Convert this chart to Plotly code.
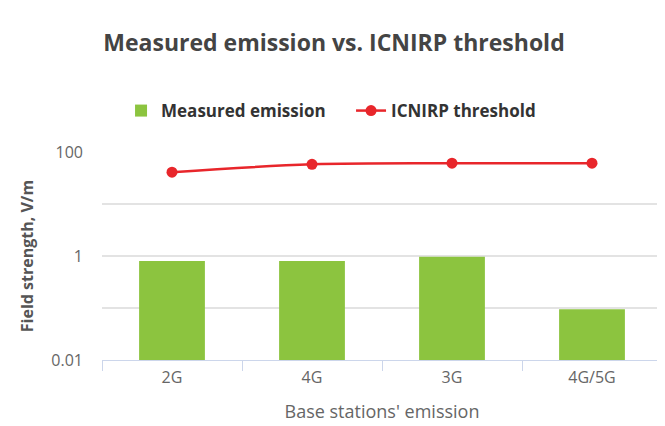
import plotly.graph_objects as go

categories = ["2G", "4G", "3G", "4G/5G"]
measured = [0.8, 0.8, 0.97, 0.095]
threshold = [41, 58, 61, 61]
y_tickvals = [0.01, 0.1, 1, 10, 100]
y_ticktext = ["0.01", "", "1", "", "100"]

FONT = "Open Sans"
W, H = 657, 418  # page body has an 8px margin

fig = go.Figure()
fig.add_trace(go.Bar(
    x=categories, y=measured, name="Measured emission",
    marker=dict(color="#8cc43f", line=dict(width=0)), width=0.47,
))
fig.add_trace(go.Scatter(
    x=categories, y=threshold, name="ICNIRP threshold",
    mode="lines+markers", line=dict(color="#e8262b", width=2.5, shape="spline"),
    marker=dict(color="#e8262b", size=11),
))

fig.update_layout(
    width=W, height=H,
    margin=dict(l=94, r=3, t=144, b=66, autoexpand=False),
    paper_bgcolor="white", plot_bgcolor="white",
    font=dict(family=FONT, color="#666666", size=16),
    title=dict(text="Measured emission vs. ICNIRP threshold",
               x=326 / W, xanchor="center", y=1 - 35 / H, yanchor="middle",
               font=dict(family=FONT, size=23, color="#444444", weight="bold")),
    legend=dict(orientation="h", x=0.034, xanchor="left",
                y=1.197, yanchor="middle",
                font=dict(family=FONT, size=17, color="#333333", weight="bold"),
                itemwidth=30, entrywidth=185, entrywidthmode="pixels"),
    showlegend=True,
)
fig.update_xaxes(
    automargin=False,
    showline=True, linecolor="#ccd6eb", linewidth=1,
    ticks="outside", tickson="boundaries", ticklen=10, tickcolor="#ccd6eb",
    showgrid=False,
    ticklabelstandoff=3,
    tickfont=dict(size=16, color="#666666"),
    title=dict(text="Base stations' emission", font=dict(size=18, color="#666666"), standoff=18),
)
fig.update_yaxes(
    automargin=False,
    type="log", range=[-2, 2],
    tickvals=y_tickvals, ticktext=y_ticktext,
    showgrid=True, gridcolor="#e3e3e3", gridwidth=1.5,
    showline=False, zeroline=False, ticks="",
    ticklabelstandoff=18,
    tickfont=dict(size=16, color="#666666"),
    title=dict(text="Field strength, V/m", font=dict(size=16, color="#555555", weight="bold"), standoff=13),
)

fig.write_html("out.html")
